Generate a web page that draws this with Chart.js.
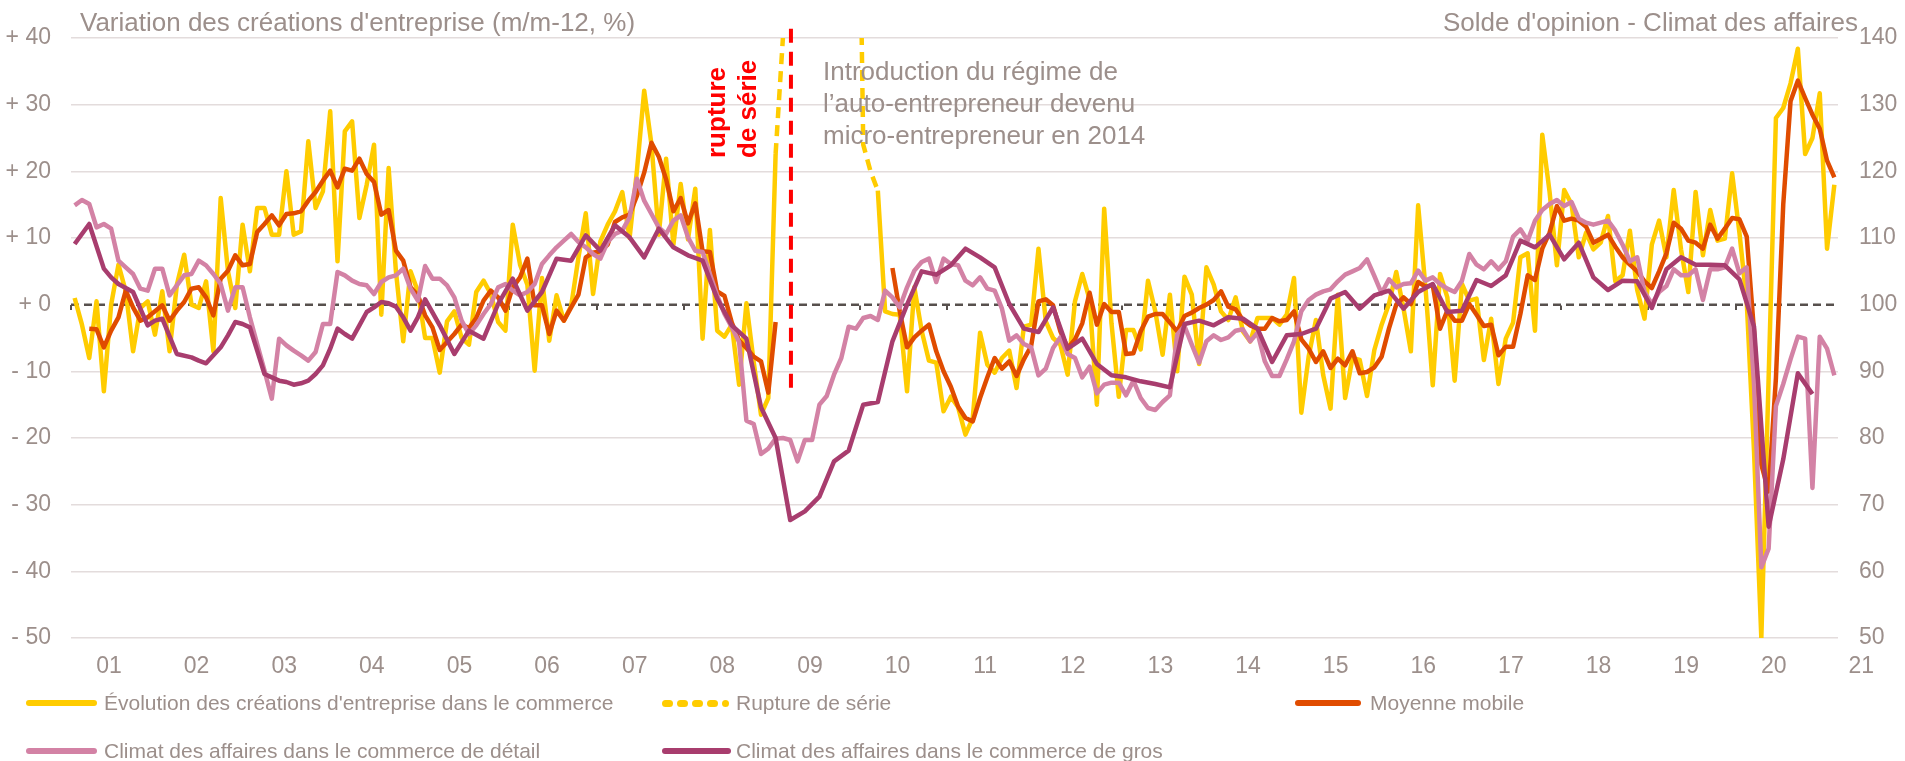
<!DOCTYPE html>
<html lang="fr">
<head>
<meta charset="utf-8">
<script src="https://cdn.jsdelivr.net/npm/chart.js@4.4.0/dist/chart.umd.min.js"></script>
<style>
  html, body { margin: 0; padding: 0; background: #ffffff; }
  #wrap { position: relative; width: 1905px; height: 761px; overflow: hidden; font-family: "Liberation Sans", Arial, sans-serif; color: #9c8f8b; }
  #c { position: absolute; left: 0; top: 0; }
  .txt { position: absolute; white-space: nowrap; }
  .leg { position: absolute; white-space: nowrap; font-size: 21px; line-height: 26px; }
  .sw { position: absolute; height: 6px; border-radius: 3px; }
  .dot { position: absolute; width: 11px; height: 7px; border-radius: 3.5px; background: #FFCC00; }
</style>
</head>
<body>
<div id="wrap">
  <canvas id="c" width="1905" height="761"></canvas>
  <div class="txt" id="tl" style="left:80px; top:7px; font-size:26px; line-height:30px;">Variation des créations d'entreprise (m/m-12, %)</div>
  <div class="txt" id="tr" style="left:1443px; top:7px; font-size:26px; line-height:30px;">Solde d'opinion - Climat des affaires</div>
  <div class="txt" style="left:823px; top:55px; font-size:26px; line-height:32px;">Introduction du régime de<br>l’auto-entrepreneur devenu<br>micro-entrepreneur en 2014</div>
  <div class="txt" style="left:701px; top:158px; font-size:26px; line-height:31px; font-weight:bold; color:#ff0000; transform-origin:0 0; transform:rotate(-90deg);">rupture<br>de série</div>

  <div class="sw" style="left:26px; top:700px; width:71px; background:#FFCC00;"></div>
  <div class="leg" style="left:104px; top:690px;">Évolution des créations d'entreprise dans le commerce</div>
  <div class="dot" style="left:662px; top:700px;"></div>
  <div class="dot" style="left:677px; top:700px;"></div>
  <div class="dot" style="left:692px; top:700px;"></div>
  <div class="dot" style="left:707px; top:700px;"></div>
  <div class="dot" style="left:722px; top:700px; width:7px;"></div>
  <div class="leg" style="left:736px; top:690px;">Rupture de série</div>
  <div class="sw" style="left:1295px; top:700px; width:66px; background:#E04C00;"></div>
  <div class="leg" style="left:1370px; top:690px;">Moyenne mobile</div>

  <div class="sw" style="left:26px; top:748px; width:71px; background:#D382A5;"></div>
  <div class="leg" style="left:104px; top:738px;">Climat des affaires dans le commerce de détail</div>
  <div class="sw" style="left:662px; top:748px; width:69px; background:#A83D6E;"></div>
  <div class="leg" style="left:736px; top:738px;">Climat des affaires dans le commerce de gros</div>
</div>
<script>
// Month index 0 = January 2001 ... 241 = February 2021
const MONTH_COUNT = 242;
const XLABELS = ['01','02','03','04','05','06','07','08','09','10','11','12','13','14','15','16','17','18','19','20','21'];

// Évolution des créations d'entreprise dans le commerce (m/m-12, %)
const creations = [
  1, -3, -8, 0.5, -13, 0, 6, 2, -7, -0.5, 0.5, -4.5,
  2, -7, 3, 7.5, 0, -0.5, 3.5, -7, 16, 5, -0.5, 12,
  5, 14.5, 14.5, 10.5, 10.5, 20, 10.5, 11, 24.5, 14.5, 17, 29,
  6.5, 26, 27.5, 13, 18, 24, -1.5, 20.5, 5, -5.5, 5, 2,
  -5, -5, -10.2, -2.5, -1, -5, -6, 1.9, 3.6, 1.6, -2.6, -3.9,
  12, 6, 3, -9.9, 4, -5.4, 1.4, -2.4, -0.2, 7.1, 13.7, 1.6,
  9.5, 12, 14, 16.9, 10, 20, 32.1, 24, 10.5, 21.9, 9, 18.1,
  9.8, 17.4, -5.1, 11.2, -3.9, -4.8, -3, -12, 0.2, -8.6, -16.5, -14,
  22.6, null, null, null, null, null, null, null, null, null, null, null,
  null, null, 17.1, -1, -1.4, -1.5, -13, 2.6, -3.9, -8.4, -8.7, -16,
  -13.8, -15.4, -19.5, -17, -4.2, -9, -10.2, -8, -6.9, -12.5, -3.3, -3,
  8.4, -2.5, -5, -6, -10.5, 0.5, 4.6, 0.8, -15, 14.4, -2.8, -13.8,
  -3.8, -3.8, -6.7, 3.6, -1, -7.5, 1.5, -10, 4.2, 1.5, -8.9, 5.6,
  3, -1, -2.3, 1.1, -4, -5.5, -2, -2, -2, -3, -1.5, 4,
  -16.2, -7.8, -2.3, -10.6, -15.6, 1.5, -14, -8, -8.3, -13.7, -6.8, -3,
  0.1, 4.9, -0.6, -7, 14.9, 2.6, -12.1, 4.6, 1.1, -11.4, 3.1, 0.6,
  0.9, -8.3, -2.1, -11.9, -5.1, -2.7, 7.1, 7.7, -3.9, 25.5, 16.9, 5.9,
  17.2, 15.1, 7.1, 10.8, 8.3, 9.3, 13.3, 3.5, 4.4, 11.1, 2.2, -2.1,
  9, 12.6, 7.1, 17.2, 8.3, 1.9, 16.9, 7.4, 14.2, 9.6, 9.9, 19.7,
  10.8, 0.4, -22, -50, -11, 28, 29.5, 33.2, 38.4, 22.6, 25, 31.7,
  8.4, 18
];

// Rupture de série (values outside the axis range run off the plot)
const rupture = new Array(MONTH_COUNT).fill(null);
const ruptureMonths = [96, 97, 98, 107, 108, 109, 110];
const ruptureValues = [22.6, 40, 100, 100, 24, 20, 17.1];
ruptureMonths.forEach((m, k) => { rupture[m] = ruptureValues[k]; });

// Moyenne mobile
const moyenne = [
  null, null, -3.6, -3.7, -6.4, -3.9, -1.9, 2.1, -0.4, -2.4, -1.9, -1,
  -0.1, -2.4, -0.9, 0.4, 2.4, 2.6, 1.1, -1.6, 3.9, 5.1, 7.4, 5.9,
  6.1, 10.9, 12.1, 13.4, 11.9, 13.6, 13.7, 14, 15.6, 16.9, 18.6, 20.1,
  17.6, 20.4, 20.1, 21.9, 19.6, 18.4, 13.5, 14.2, 8.1, 6.6, 2.6, 1.4,
  -1.6, -3.4, -6.8, -5.6, -4.4, -3, -3.5, -2, 0.6, 2.1, 1.1, -0.9,
  2.6, 4.1, 6.9, -0.1, -0.1, -4.4, -0.9, -2.4, -0.4, 1.5, 7.1, 7.8,
  8, 9, 12.4, 13.1, 13.5, 16.3, 19.8, 24.3, 22.2, 18.8, 14, 16,
  12.2, 15.2, 8, 7.9, 2, 1.3, -2.7, -5.4, -6.5, -7.8, -8.5, -13.2,
  -2.6, null, null, null, null, null, null, null, null, null, null, null,
  null, null, null, null, 5.5, -1, -6.4, -4.9, -3.9, -3, -7, -10,
  -12.3, -15.3, -17, -17.5, -14, -10.9, -8, -9.6, -8.5, -10.7, -8.2, -6.2,
  0.5, 0.8, -0.1, -4, -6.5, -5.2, -2.8, 1.8, -3, 0.1, -1.1, -1.1,
  -7.4, -7.3, -4, -1.8, -1.4, -1.4, -2.7, -4, -1.7, -1.2, -0.5, 0,
  0.7, 2, -0.3, -0.7, -2.3, -3.1, -3.6, -3.6, -2, -2.5, -2.3, -1,
  -5.2, -6.6, -8.6, -7, -9.5, -8.1, -9.1, -7, -10.3, -10.1, -9.4, -7.8,
  -3.6, 0, 1.1, 0.1, 3.4, 2.7, 2.9, -3.6, -0.9, -2.4, -2.4, 0.1,
  -1.5, -3.2, -3, -7.6, -6.3, -6.3, -1.4, 4.4, 3.7, 8.4, 10.8, 14.8,
  12.6, 12.9, 12.6, 11.7, 9.3, 9.9, 10.5, 8.7, 7.1, 6, 5, 3.5,
  2.5, 5, 7.7, 12.3, 11.4, 9.6, 9.3, 8.4, 12, 9.9, 11.4, 13,
  12.8, 10.2, -4, -24, -28, -11, 15, 30.5, 33.6, 31, 28.5, 26.4,
  21.6, 19.1
];

// Climat des affaires dans le commerce de détail (right axis)
const detail = [
  114.9, 115.7, 115.1, 111.6, 112.1, 111.4, 106.6, 105.6, 104.6, 102.4, 102.1, 105.4,
  105.4, 101.4, 102.9, 104.4, 104.6, 106.6, 105.9, 104.6, 103.1, 99.1, 102.6, 102.6,
  98.1, 94.1, 90.1, 85.9, 94.9, 93.9, 93.1, 92.4, 91.6, 92.9, 97.1, 97.1,
  104.9, 104.4, 103.6, 103.1, 102.9, 101.6, 103.4, 104.1, 104.4, 105.4, 102.4, 100.6,
  105.8, 103.9, 103.9, 102.9, 101.1, 97.6, 95.6, 96.9, 98.6, 100.1, 102.6, 103.1,
  102.1, 101.4, 101.9, 103.1, 106.1, 107.4, 108.6, 109.6, 110.6, 109.4, 108.6, 107.6,
  106.9, 109.4, 110.6, 111.1, 113.1, 118.9, 115.6, 113.6, 111.6, 110.6, 112.6, 113.4,
  110.1, 108.1, 107.9, 104.6, 101.4, 98.6, 96.6, 94.4, 82.6, 82.1, 77.6, 78.4,
  79.9, 80, 79.7, 76.5, 79.7, 79.7, 85, 86.3, 89.5, 92, 96.7, 96.4,
  98, 98.3, 97.7, 102.1, 101.1, 99.6, 102.6, 105.1, 106.4, 106.9, 103.4, 106.9,
  106.1, 105.9, 103.6, 102.9, 104.1, 102.4, 102.1, 99.4, 94.6, 95.4, 94.1, 93.6,
  89.4, 90.4, 93.5, 95.1, 92.6, 92, 89.1, 90.7, 86.7, 88, 88.3, 88.3,
  86.4, 88.6, 86, 84.5, 84.2, 85.4, 86.4, 95.5, 96.8, 94, 91.3, 94.5,
  95.4, 94.7, 95.1, 96.1, 96.3, 94.5, 95.8, 91.5, 89.3, 89.3, 91.8, 94.5,
  99, 100.7, 101.5, 102, 102.3, 103.5, 104.5, 105, 105.5, 106.8, 104.3, 101.7,
  103.8, 102.6, 103.1, 103.2, 105.1, 103.6, 104.1, 103.1, 102.4, 101.9, 103.6, 107.6,
  106, 105.3, 106.5, 105.3, 106.5, 110.2, 111.3, 109.6, 112.6, 114.2, 115.1, 115.7,
  114.8, 115.4, 112.9, 112.3, 112, 112.3, 112.6, 111.1, 109, 106.5, 107.1, 101.9,
  100.1, 101.9, 102.8, 105.3, 104.4, 104.4, 105.3, 100.7, 105.3, 105.3, 105.6, 108.4,
  104.7, 105.6, 88, 60.6, 63.4, 84.8, 88.1, 91.8, 95.2, 94.9, 72.5, 95.2,
  93.4, 89.4
];

// Climat des affaires dans le commerce de gros (right axis; survey months only)
const gros = [
  109.1, null, 112.1, null, 105.4, 104.1, 103.1, null, 101.9, null, 96.9, 97.6,
  97.9, null, 92.6, null, 92.1, 91.6, 91.2, 92.4, 93.6, 95.4, 97.4, 97.1,
  96.6, 93.1, 89.6, 89.1, 88.6, 88.4, 88, 88.2, 88.6, 89.6, 90.9, 93.4,
  96.4, 95.6, 94.9, 96.9, 98.9, 99.6, 100.4, 100.2, 99.7, 98.1, 96.1, 98.1,
  100.8, null, 96.9, null, 92.6, null, 96.1, null, 94.9, null, 100.1, null,
  103.9, null, 99.1, null, 101.9, null, 106.9, null, 106.6, null, 110.4, null,
  108.1, null, 111.9, null, 110.1, null, 107.1, null, 111.4, null, 108.6, null,
  107.4, null, 106.6, null, 100.9, null, 96.9, null, 94.9, null, 84.6, null,
  80, null, 67.7, null, 69, null, 71.2, null, 76.5, null, 78.1, null,
  85, null, 85.4, null, 94.5, null, 100, null, 105, null, 104.5, null,
  105.9, null, 108.4, null, 107.1, null, 105.6, null, 100.1, null, 96.4, null,
  95.9, null, 99.6, null, 93.4, null, 94.9, null, 91.1, null, 89.4, null,
  89.1, null, 88.5, null, 88.1, null, 87.6, null, 97.1, null, 97.6, null,
  96.9, null, 98.1, null, 97.9, null, 96.4, null, 91.4, null, 95.4, null,
  95.6, null, 96.4, null, 100.9, null, 101.9, null, 99.4, null, 101.4, null,
  102.1, null, 99.4, null, 101.9, null, 103.1, null, 98.9, null, 99.1, null,
  103.7, null, 102.8, null, 104.4, null, 109.6, null, 108.6, null, 110.5, null,
  106.8, null, 109.3, null, 104.1, null, 102.2, null, 103.6, null, 103.5, null,
  99.5, null, 105.3, null, 107.1, null, 106, null, 106, null, 105.9, null,
  103.8, null, 96.7, null, 66.7, null, 76.8, null, 89.7, null, 86.6, null,
  null, null
];

// Vertical marker of the series break (month index, left-axis range)
const BREAK_MONTH = 98.1;
const BREAK_RANGE = [41.4, -12.5];
// Horizontal reference line at zero (left axis), across the whole month range
const ZERO_LINE = [-0.5, MONTH_COUNT - 0.5];

const pts = arr => arr.map((v, i) => ({ x: i, y: v }));

const TEXT = '#9c8f8b';
const FONT = '"Liberation Sans", Arial, sans-serif';
Chart.defaults.font.family = FONT;

new Chart(document.getElementById('c'), {
  type: 'line',
  data: {
    datasets: [
      { label: 'rupture', data: BREAK_RANGE.map(v => ({ x: BREAK_MONTH, y: v })), xAxisID: 'x', yAxisID: 'y',
        borderColor: '#ff0000', borderWidth: 4, borderDash: [14, 9], clip: false, order: 0 },
      { label: 'Climat des affaires dans le commerce de gros', data: pts(gros), xAxisID: 'x', yAxisID: 'y2',
        borderColor: '#A83D6E', borderWidth: 4.5, spanGaps: true, order: 1 },
      { label: 'Climat des affaires dans le commerce de détail', data: pts(detail), xAxisID: 'x', yAxisID: 'y2',
        borderColor: '#D382A5', borderWidth: 4.5, order: 2 },
      { label: 'Moyenne mobile', data: pts(moyenne), xAxisID: 'x', yAxisID: 'y',
        borderColor: '#E04C00', borderWidth: 4.5, order: 3 },
      { label: 'Rupture de série', data: pts(rupture), xAxisID: 'x', yAxisID: 'y',
        borderColor: '#FFCC00', borderWidth: 4.5, borderDash: [11, 7], order: 4 },
      { label: "Évolution des créations d'entreprise dans le commerce", data: pts(creations), xAxisID: 'x', yAxisID: 'y',
        borderColor: '#FFCC00', borderWidth: 4.5, order: 5 },
      { label: 'zero', data: ZERO_LINE.map(x => ({ x: x, y: 0 })), xAxisID: 'x', yAxisID: 'y',
        borderColor: '#57504d', borderWidth: 2.5, borderDash: [8, 5], order: 6 }
    ]
  },
  options: {
    responsive: false,
    animation: false,
    layout: { padding: { top: 38, left: 0, right: 0, bottom: 0 } },
    plugins: { legend: { display: false }, tooltip: { enabled: false } },
    elements: {
      point: { radius: 0, hoverRadius: 0 },
      line: { tension: 0, borderJoinStyle: 'round', borderCapStyle: 'butt', fill: false }
    },
    scales: {
      x: {
        type: 'linear', position: 'bottom', min: -0.5, max: MONTH_COUNT - 0.5,
        grid: { display: false, drawTicks: false }, border: { display: false },
        afterBuildTicks: s => { s.ticks = XLABELS.map((l, k) => ({ value: 12 * k + 4.7 })); },
        ticks: { autoSkip: false, maxRotation: 0, minRotation: 0, padding: 15, color: TEXT,
                 font: { size: 23 }, callback: (v, i) => XLABELS[i] },
        afterFit: s => { s.height = 123; }
      },
      x0: {
        type: 'linear', axis: 'x', position: { y: 0 }, min: -0.5, max: MONTH_COUNT - 0.5,
        grid: { drawOnChartArea: false, drawTicks: true, tickLength: 5, color: '#57504d', lineWidth: 2 },
        border: { display: false },
        afterBuildTicks: s => { s.ticks = XLABELS.slice(0, 20).map((l, k) => ({ value: 12 * k - 0.5 })); },
        ticks: { display: false }
      },
      y: {
        position: 'left', min: -50, max: 40,
        ticks: { stepSize: 10, padding: 20, color: TEXT, font: { size: 23 },
                 callback: v => v > 0 ? '+ ' + v : (v < 0 ? '- ' + (-v) : '+ 0') },
        grid: { drawTicks: false, lineWidth: 1.5, color: c => (c.tick && c.tick.value === 0) ? '#ffffff' : '#e3dcdc' },
        border: { display: false },
        afterFit: s => { s.width = 71; }
      },
      y2: {
        position: 'right', min: 50, max: 140,
        ticks: { stepSize: 10, padding: 21, color: TEXT, font: { size: 23 } },
        grid: { display: false, drawTicks: false },
        border: { display: false },
        afterFit: s => { s.width = 67; }
      }
    }
  }
});
</script>
</body>
</html>
